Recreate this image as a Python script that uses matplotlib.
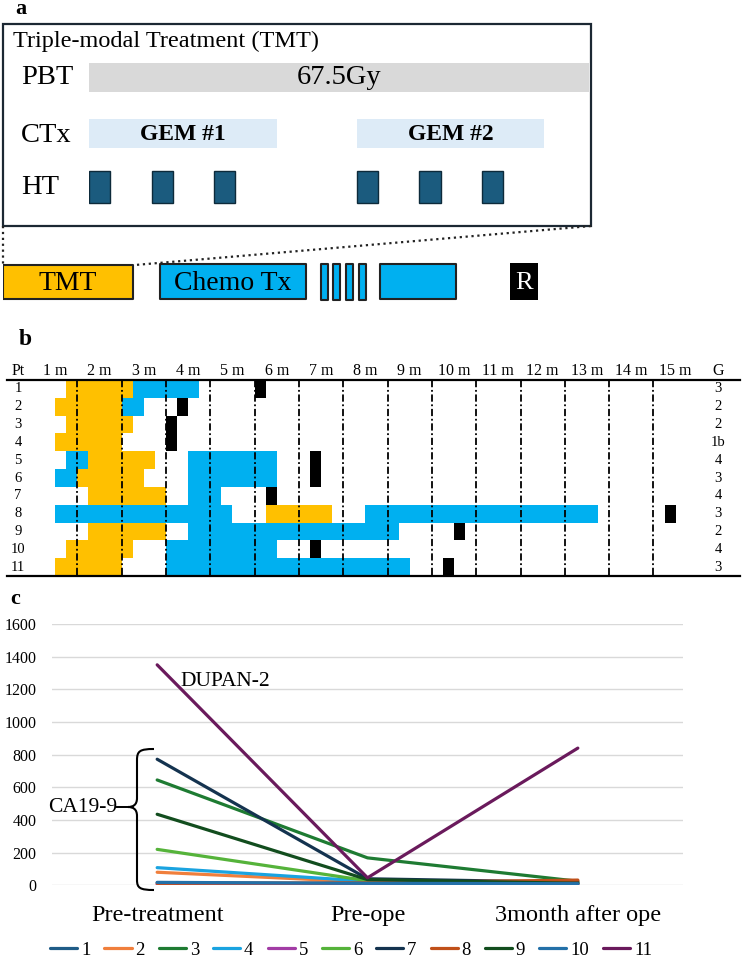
import matplotlib
import numpy as np

matplotlib.use("Agg")
from matplotlib import pyplot as plt  # noqa: E402
from matplotlib.path import Path  # noqa: E402
from matplotlib.patches import PathPatch, Rectangle  # noqa: E402

plt.rcParams["font.family"] = ["Liberation Serif", "DejaVu Serif"]

W, H = 744, 959

# ---- panel a: treatment schedule (days) ----
pbt_days = (0, 56)
gem_courses = [(0, 21), (30, 21)]
gem_labels = ["GEM #1", "GEM #2"]
ht_days = [0, 7, 14, 30, 37, 44]
ht_width = 2.4

# bottom course timeline (weeks)
course_tmt = (0, 8)
course_chemo = (9.66, 9.0)
course_short = [19.57, 20.3, 21.1, 21.9]
course_short_width = 0.43
course_long = (23.2, 4.7)
course_resection = (31.2, 1.7)

# ---- panel b: per-patient timeline (weeks) ----
patients = [str(i) for i in range(1, 12)]
grades = ["3", "2", "2", "1b", "4", "3", "4", "3", "2", "4", "3"]
month_labels = [f"{m} m" for m in range(1, 16)]
tmt_weeks = [
    [(3, 6)], [(2, 6)], [(3, 6)], [(2, 6)], [(5, 6)], [(4, 6)],
    [(5, 7)], [(21, 6)], [(5, 7)], [(3, 6)], [(2, 6)],
]
chemo_weeks = [
    [(9, 6)], [(8, 2)], [], [], [(3, 2), (14, 8)], [(2, 2), (14, 8)],
    [(14, 3)], [(2, 16), (30, 21)], [(14, 19)], [(12, 10)], [(12, 22)],
]
resection_weeks = [20, 13, 12, 12, 25, 25, 21, 57, 38, 25, 37]

# ---- panel c: tumour markers ----
stages = ["Pre-treatment", "Pre-ope", "3month after ope"]
marker_values = {
    "1": [15, 10, 8],
    "2": [80, 20, 25],
    "3": [645, 168, 25],
    "4": [108, 25, 12],
    "5": [5, 3, 5],
    "6": [220, 28, 15],
    "7": [772, 40, 18],
    "8": [12, 15, 32],
    "9": [435, 35, 12],
    "10": [18, 12, 10],
    "11": [1350, 46, 840],
}
marker_colors = {
    "1": "#1f5c87", "2": "#f07f3c", "3": "#1e7b32", "4": "#1aa3e0",
    "5": "#a23ca5", "6": "#55b33a", "7": "#14334f", "8": "#c0501a",
    "9": "#124d1e", "10": "#2370a8", "11": "#6a1a5c",
}

ORANGE = "#ffc000"
CYAN = "#00b0f0"


def px_axes(fig, left, top, right, bottom):
    return fig.add_axes([left / W, 1 - bottom / H, (right - left) / W, (bottom - top) / H])


fig = plt.figure(figsize=(W / 100, H / 100), dpi=100)

# ---------------- panel a ----------------
ax_a = px_axes(fig, 89, 0, 589, 310)
ax_a.set_xlim(0, 56)
ax_a.set_ylim(310, 0)
ax_a.axis("off")
ax_a.broken_barh([pbt_days], (63, 29), facecolors="#d9d9d9")
ax_a.text(pbt_days[0] + pbt_days[1] / 2, 78, "67.5Gy", fontsize=20.5,
          ha="center", va="center")
ax_a.broken_barh(gem_courses, (119, 29), facecolors="#ddebf7")
for (start, length), label in zip(gem_courses, gem_labels):
    ax_a.text(start + length / 2, 134, label, fontsize=17, fontweight="bold",
              ha="center", va="center")
ax_a.bar(ht_days, 32, width=ht_width, bottom=171, align="edge",
         color="#1b5b7e", edgecolor="#0d2a3a", linewidth=1)

ax_t = px_axes(fig, 3, 0, 744, 310)
ax_t.set_xlim(0, 741 / 16.25)
ax_t.set_ylim(310, 0)
ax_t.axis("off")
box_kw = dict(edgecolor="#222222", linewidth=1.5)
ax_t.broken_barh([course_tmt], (265, 34), facecolors=ORANGE, **box_kw)
ax_t.text(course_tmt[0] + course_tmt[1] / 2, 283, "TMT", fontsize=20,
          ha="center", va="center")
ax_t.broken_barh([course_chemo], (264, 35), facecolors=CYAN, **box_kw)
ax_t.text(course_chemo[0] + course_chemo[1] / 2, 283, "Chemo Tx", fontsize=20,
          ha="center", va="center")
ax_t.broken_barh([(s, course_short_width) for s in course_short], (264, 36),
                 facecolors=CYAN, **box_kw)
ax_t.broken_barh([course_long], (264, 35), facecolors=CYAN, **box_kw)
ax_t.broken_barh([course_resection], (263, 37), facecolors="black")
ax_t.text(course_resection[0] + course_resection[1] / 2, 283, "R", fontsize=19,
          color="white", ha="center", va="center")

# ---------------- panel b ----------------
row_h = 196 / len(patients)
ax_b = px_axes(fig, 33, 380, 33 + 60 * 11.08, 576)
ax_b.set_xlim(0, 60)
ax_b.set_ylim(len(patients), 0)
ax_b.axis("off")
for i in range(len(patients)):
    ax_b.broken_barh(tmt_weeks[i], (i, 1), facecolors=ORANGE)
    ax_b.broken_barh(chemo_weeks[i], (i, 1), facecolors=CYAN)
    ax_b.broken_barh([(resection_weeks[i], 1)], (i, 1), facecolors="black")
ax_b.vlines(np.arange(4, 57, 4), 0, len(patients), colors="black", lw=1.3,
            linestyles=(0, (4, 1.5, 1, 1.5)))
for m, label in enumerate(month_labels):
    ax_b.text(m * 4 + 2, -0.5, label, fontsize=11.5, ha="center", va="center",
              clip_on=False)

# ---------------- panel c ----------------
ax_c = px_axes(fig, 52, 624, 683, 885.3)
ax_c.patch.set_visible(False)
x = np.arange(len(stages))
for name, values in marker_values.items():
    ax_c.plot(x, values, color=marker_colors[name], lw=2.3, label=name,
              solid_joinstyle="round", solid_capstyle="round")
ax_c.set_xlim(-0.5, len(stages) - 0.5)
ax_c.set_ylim(0, 1600)
ax_c.set_yticks(np.arange(0, 1601, 200))
ax_c.grid(axis="y", color="#d9d9d9", lw=1)
ax_c.set_axisbelow(True)
ax_c.set_xticks(x, labels=stages)
ax_c.tick_params(axis="y", length=0, pad=11, labelsize=11.5)
ax_c.tick_params(axis="x", length=0, pad=14, labelsize=17.5)
for spine in ax_c.spines.values():
    spine.set_visible(False)
ax_c.legend(loc="center", bbox_to_anchor=(351 / W, 1 - 950 / H),
            bbox_transform=fig.transFigure, ncol=11, frameon=False, fontsize=13.5,
            handlelength=1.45, handletextpad=0.2, columnspacing=0.75)

# ---------------- overlay: frames, labels, annotations ----------------
canvas = fig.add_axes([0, 0, 1, 1])
canvas.set_xlim(0, W)
canvas.set_ylim(H, 0)
canvas.axis("off")

canvas.text(21, 14, "a", fontsize=16, fontweight="bold", ha="center", va="baseline")
canvas.add_patch(Rectangle((3, 24), 588, 202, fill=False, edgecolor="#1c2833", lw=1.6))
canvas.text(13, 41, "Triple-modal Treatment (TMT)", fontsize=17.5, va="center")
for label, y in [("PBT", 78), ("CTx", 135), ("HT", 188)]:
    canvas.text(21, y, label, fontsize=20.5, va="center")
canvas.plot([3, 3], [226, 265], ls=":", color="#222222", lw=1.6)
canvas.plot([591, 135], [226, 265], ls=":", color="#222222", lw=1.6)

canvas.text(25, 345, "b", fontsize=17, fontweight="bold", ha="center", va="baseline")
canvas.plot([7, 740], [380, 380], color="black", lw=1.6)
canvas.plot([7, 740], [576, 576], color="black", lw=1.6)
canvas.text(18, 371, "Pt", fontsize=11.5, ha="center", va="center")
canvas.text(718, 371, "G", fontsize=11.5, ha="center", va="center")
for i, (pt, g) in enumerate(zip(patients, grades)):
    y = 380 + row_h * (i + 0.5)
    canvas.text(18, y, pt, fontsize=10.5, ha="center", va="center")
    canvas.text(718, y, g, fontsize=10.5, ha="center", va="center")

canvas.text(15, 604, "c", fontsize=16, fontweight="bold", ha="center", va="baseline")
canvas.text(180, 681, "DUPAN-2", fontsize=15.5, va="center")
canvas.text(117, 808, "CA19-9", fontsize=15.5, ha="right", va="center")
canvas.plot([117, 128], [807, 807], color="black", lw=1.4)
brace = Path(
    [(154, 749), (140, 749), (137, 751), (137, 760), (137, 798),
     (137, 805), (133, 807), (128, 807), (133, 807), (137, 809), (137, 816),
     (137, 880), (137, 888), (140, 890), (154, 890)],
    [Path.MOVETO, Path.CURVE4, Path.CURVE4, Path.CURVE4, Path.LINETO,
     Path.CURVE4, Path.CURVE4, Path.CURVE4, Path.CURVE4, Path.CURVE4, Path.CURVE4,
     Path.LINETO, Path.CURVE4, Path.CURVE4, Path.CURVE4],
)
canvas.add_patch(PathPatch(brace, fill=False, edgecolor="black", lw=1.5))

fig.savefig("out.png", dpi=100)
plt.close(fig)
